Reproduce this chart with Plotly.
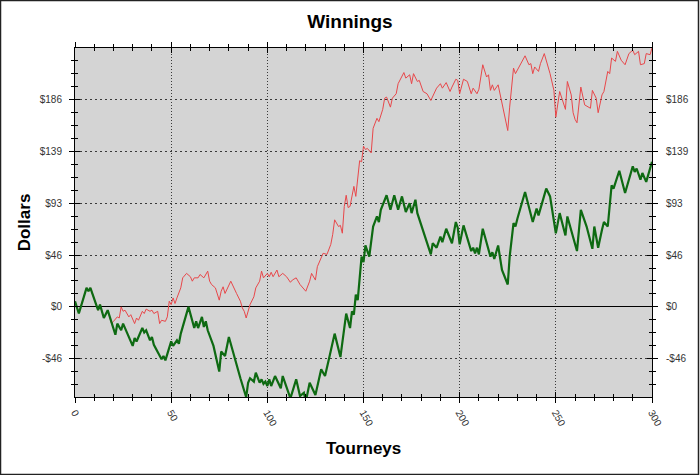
import plotly.graph_objects as go

# Tourney index / cumulative winnings (dollars)
green_t = [0, 2, 6, 7, 8, 12, 13, 15, 17, 21, 22, 24, 25, 30, 31, 32, 35, 36, 37, 39, 40, 41, 45, 46, 47,
           50, 51, 53, 54, 55, 59, 61, 62, 63, 64, 66, 67, 68, 69, 72, 75, 76, 78, 80, 84, 86, 89, 90, 91,
           93, 94, 96, 97, 98, 99, 100, 101, 102, 104, 107, 108, 112, 115, 117, 119, 120, 122, 125, 128,
           130, 132, 135, 138, 141, 143, 144, 145, 146, 147, 149, 150, 151, 153, 155, 157, 158, 159, 162,
           164, 166, 168, 170, 172, 174, 175, 177, 178, 185, 186, 188, 190, 191, 193, 196, 198, 199, 200,
           202, 206, 207, 208, 209, 210, 212, 216, 217, 218, 220, 222, 225, 226, 228, 229, 230, 234, 236,
           238, 240, 241, 245, 247, 250, 252, 255, 256, 261, 263, 266, 269, 270, 272, 274, 275, 277, 279,
           280, 283, 286, 290, 291, 292, 294, 295, 297, 300]
green_v = [5, -6, 17, 14, 17, -3, 2, -10, -3, -25, -15, -21, -15, -35, -28, -31, -19, -23, -21, -30, -27,
           -34, -47, -44, -48, -31, -35, -30, -33, -24, 0, -12, -19, -13, -19, -9, -18, -13, -21, -35, -58,
           -40, -44, -27, -53, -64, -81, -68, -64, -67, -59, -68, -65, -69, -67, -71, -65, -71, -62, -73,
           -62, -82, -65, -80, -77, -85, -68, -79, -56, -62, -47, -24, -45, -6, -19, -4, -7, 11, 6, 45, 40,
           55, 45, 72, 81, 76, 87, 100, 87, 100, 87, 99, 85, 93, 84, 96, 84, 47, 57, 53, 63, 58, 70, 57,
           76, 71, 56, 73, 50, 53, 48, 53, 47, 70, 45, 49, 43, 55, 33, 20, 45, 75, 72, 79, 103, 90, 76, 88,
           82, 106, 99, 66, 84, 64, 81, 50, 87, 72, 52, 72, 53, 69, 76, 72, 109, 106, 122, 102, 126, 121,
           124, 114, 120, 112, 130]

red_t = [0, 2, 6, 7, 8, 12, 13, 15, 17, 19, 20, 22, 23, 24, 25, 26, 28, 29, 31, 32, 33, 35, 36, 37, 39,
         40, 41, 43, 44, 45, 47, 48, 49, 50, 51, 52, 53, 55, 56, 58, 60, 61, 62, 64, 65, 67, 69, 70, 71,
         73, 75, 76, 77, 78, 81, 83, 84, 86, 87, 88, 89, 91, 93, 94, 96, 97, 98, 100, 101, 102, 103, 105,
         106, 108, 110, 112, 113, 115, 117, 120, 122, 123, 125, 126, 128, 129, 131, 133, 134, 135, 137,
         138, 139, 140, 141, 142, 143, 145, 146, 147, 148, 149, 150, 151, 152, 154, 155, 157, 158, 160,
         161, 162, 164, 165, 167, 168, 171, 172, 174, 175, 176, 178, 179, 181, 183, 185, 188, 190, 191,
         193, 195, 196, 198, 199, 200, 202, 204, 206, 207, 209, 210, 212, 214, 215, 216, 217, 218, 220,
         221, 223, 225, 226, 227, 228, 229, 231, 234, 236, 237, 238, 239, 241, 242, 244, 247, 249, 250,
         252, 253, 255, 256, 258, 259, 260, 261, 263, 265, 267, 268, 269, 271, 272, 274, 275, 277, 278,
         279, 281, 282, 284, 286, 288, 290, 291, 293, 294, 296, 297, 299, 300]
red_v = [5, -5, 17, 14, 17, -3, 2, -10, -3, -15, -13, -9, -10, 0, -4, -3, -9, -7, -15, -10, -12, -4, -6,
         -2, -4, -3, -6, -4, -15, -12, -13, -9, 5, 2, 8, 3, 8, 17, 26, 30, 27, 23, 26, 26, 29, 26, 32, 23,
         20, 17, 6, 14, 18, 12, 23, 15, 12, 5, -1, -4, -10, 2, 9, 17, 23, 32, 26, 30, 27, 31, 27, 33, 27,
         30, 27, 22, 24, 26, 20, 14, 23, 30, 24, 36, 45, 48, 47, 56, 65, 78, 72, 73, 66, 90, 100, 89, 90,
         108, 99, 115, 131, 130, 144, 141, 142, 138, 160, 169, 166, 177, 187, 188, 179, 187, 191, 200,
         210, 205, 208, 200, 209, 202, 203, 193, 191, 185, 196, 200, 196, 201, 193, 197, 204, 203, 191,
         204, 202, 191, 196, 191, 195, 217, 206, 208, 194, 199, 194, 199, 191, 172, 158, 179, 196, 214,
         209, 215, 225, 217, 218, 209, 215, 211, 218, 227, 209, 194, 170, 193, 187, 177, 202, 190, 174,
         168, 165, 197, 181, 179, 178, 194, 187, 174, 190, 193, 211, 209, 223, 220, 229, 221, 217, 227,
         230, 226, 229, 217, 218, 227, 226, 232]

y_tick_vals = [-46.4, 0, 46.4, 92.8, 139.2, 185.6]
y_tick_text = ["-$46", "$0", "$46", "$93", "$139", "$186"]
y_minor_vals = [-81.2, -69.6, -58.0, -34.8, -23.2, -11.6, 11.6, 23.2, 34.8, 58.0, 69.6, 81.2, 104.4,
                116.0, 127.6, 150.8, 162.4, 174.0, 197.2, 208.8, 220.4]
x_tick_vals = [0, 50, 100, 150, 200, 250, 300]

FONT = "Liberation Sans, Arial, sans-serif"
tickfont = dict(family=FONT, size=10, color="#333333")

fig = go.Figure()
fig.add_trace(go.Scatter(x=red_t, y=red_v, mode="lines", line=dict(color="#E8474A", width=1),
                         showlegend=False, hoverinfo="skip"))
fig.add_trace(go.Scatter(x=green_t, y=green_v, mode="lines", line=dict(color="#0E6A12", width=2.2),
                         showlegend=False, hoverinfo="skip"))
# invisible helpers so the right-hand labels and the inner halves of the ticks are drawn
fig.add_trace(go.Scatter(x=green_t, y=green_v, mode="lines", line=dict(width=0), opacity=0,
                         yaxis="y2", showlegend=False, hoverinfo="skip"))
fig.add_trace(go.Scatter(x=green_t, y=green_v, mode="lines", line=dict(width=0), opacity=0,
                         xaxis="x2", yaxis="y3", showlegend=False, hoverinfo="skip"))

fig.update_layout(
    width=700, height=475,
    margin=dict(l=75, r=48, t=48, b=78),
    paper_bgcolor="white",
    plot_bgcolor="#D4D4D4",
    title=dict(text="<b>Winnings</b>", x=0.5, xanchor="center", y=0.955, yanchor="middle",
               font=dict(family=FONT, size=19, color="black")),
    xaxis=dict(range=[0, 300], tickmode="array", tickvals=x_tick_vals, tickangle=60,
               showline=True, linecolor="black", linewidth=1, mirror="ticks",
               ticks="outside", ticklen=5, tickcolor="black",
               minor=dict(dtick=10, tick0=0, ticklen=3, ticks="outside", tickcolor="black", showgrid=False),
               showgrid=True, gridcolor="#3a3a3a", griddash="1px,2px", gridwidth=1,
               zeroline=False, tickfont=tickfont),
    xaxis2=dict(overlaying="x", side="bottom", matches="x", tickmode="array", tickvals=x_tick_vals,
                showticklabels=False, ticks="inside", ticklen=5, tickcolor="black", mirror="ticks",
                minor=dict(dtick=10, tick0=0, ticklen=3, ticks="inside", tickcolor="black", showgrid=False),
                showgrid=False, zeroline=False, showline=False),
    yaxis=dict(range=[-80.8, 232], tickmode="array", tickvals=y_tick_vals, ticktext=y_tick_text,
               showline=True, linecolor="black", linewidth=1, mirror="ticks",
               ticks="outside", ticklen=5, tickcolor="black", ticklabelstandoff=5,
               minor=dict(tickmode="array", tickvals=y_minor_vals, ticklen=3, ticks="outside",
                          tickcolor="black", showgrid=False),
               showgrid=True, gridcolor="#3a3a3a", griddash="2px,3px", gridwidth=1,
               zeroline=True, zerolinecolor="black", zerolinewidth=1, tickfont=tickfont),
    yaxis2=dict(overlaying="y", side="right", matches="y", tickmode="array", tickvals=y_tick_vals,
                ticktext=y_tick_text, ticks="outside", ticklen=5, tickcolor="black",
                ticklabelstandoff=6, showgrid=False, zeroline=False, showline=False, tickfont=tickfont),
    yaxis3=dict(overlaying="y", side="left", matches="y", tickmode="array", tickvals=y_tick_vals,
                showticklabels=False, ticks="inside", ticklen=5, tickcolor="black", mirror="ticks",
                minor=dict(tickmode="array", tickvals=y_minor_vals, ticklen=3, ticks="inside",
                           tickcolor="black", showgrid=False),
                showgrid=False, zeroline=False, showline=False),
    annotations=[
        dict(text="<b>Tourneys</b>", xref="paper", yref="paper", x=0.5, y=-0.147, xanchor="center",
             yanchor="middle", showarrow=False, font=dict(family=FONT, size=17, color="black")),
        dict(text="<b>Dollars</b>", xref="paper", yref="paper", x=-0.087, y=0.5, xanchor="center",
             yanchor="middle", textangle=-90, showarrow=False, font=dict(family=FONT, size=17, color="black")),
    ],
    shapes=[dict(type="rect", xref="paper", yref="paper", x0=-74.5 / 577, x1=1 + 46.5 / 577,
                 y0=-77.5 / 349, y1=1 + 47.5 / 349, line=dict(color="#222222", width=1.5))],
)

fig.write_html("out.html", config={"displayModeBar": False},
               post_script="document.body.style.margin='0';document.body.style.overflow='hidden';")
